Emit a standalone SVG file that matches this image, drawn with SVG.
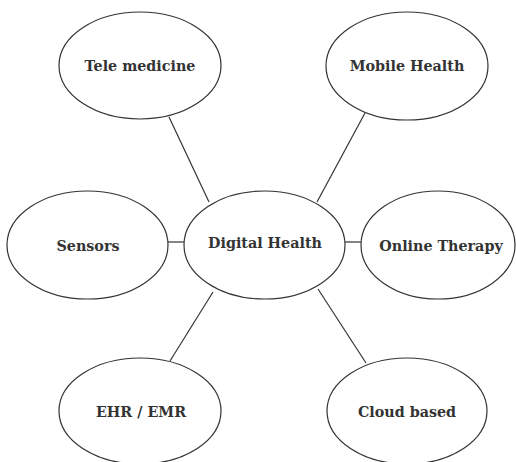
<svg xmlns="http://www.w3.org/2000/svg" width="516" height="462" viewBox="0 0 516 462">
<style>
.n ellipse{fill:#fff;stroke:#333;stroke-width:1.2}
.n text{font-family:"DejaVu Serif",serif;font-weight:bold;font-size:14.3px;fill:#333;text-anchor:middle;dominant-baseline:central}
.c line{stroke:#333;stroke-width:1.2}
</style>
<rect width="516" height="462" fill="#fff"/>
<g class="c" id="connectors">
<line x1="169" y1="117" x2="209" y2="202"/>
<line x1="365" y1="113" x2="317" y2="202"/>
<line x1="168" y1="242" x2="184" y2="242"/>
<line x1="345" y1="242" x2="361" y2="242"/>
<line x1="213" y1="292" x2="170" y2="361"/>
<line x1="318" y1="289" x2="366" y2="363"/>
</g>
<g class="n" id="tele"><ellipse cx="140" cy="65.5" rx="81" ry="53.5"/><text x="140" y="66">Tele medicine</text></g>
<g class="n" id="mobile"><ellipse cx="407" cy="66" rx="81" ry="54"/><text x="407" y="66">Mobile Health</text></g>
<g class="n" id="sensors"><ellipse cx="87.5" cy="245" rx="80.5" ry="54"/><text x="88" y="246">Sensors</text></g>
<g class="n" id="digital"><ellipse cx="264.5" cy="245" rx="80.5" ry="54"/><text x="265" y="243">Digital Health</text></g>
<g class="n" id="online"><ellipse cx="438" cy="245" rx="77" ry="54"/><text x="441" y="246">Online Therapy</text></g>
<g class="n" id="ehr"><ellipse cx="140" cy="411" rx="81" ry="53"/><text x="141" y="412">EHR / EMR</text></g>
<g class="n" id="cloud"><ellipse cx="407" cy="411" rx="80" ry="53"/><text x="407" y="412">Cloud based</text></g>
</svg>
